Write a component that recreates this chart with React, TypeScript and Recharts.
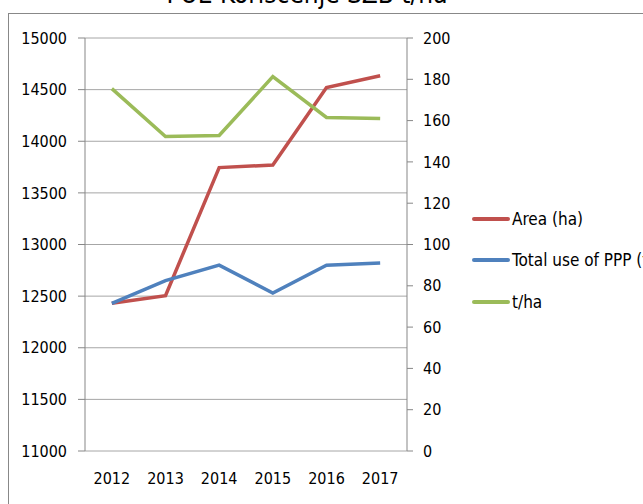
import React from "react";
import {
  LineChart,
  Line,
  XAxis,
  YAxis,
  CartesianGrid,
  Legend,
} from "recharts";

const years = ["2012", "2013", "2014", "2015", "2016", "2017"];
const area = [12430, 12505, 13745, 13770, 14520, 14635];
const pppUse = [71.5, 82.5, 90, 76.5, 90, 91];
const yieldT = [175.5, 152.3, 152.8, 181.3, 161.5, 161];

const leftTicks = [11000, 11500, 12000, 12500, 13000, 13500, 14000, 14500, 15000];
const rightTicks = [0, 20, 40, 60, 80, 100, 120, 140, 160, 180, 200];

const seriesInfo = [
  { key: "area", name: "Area (ha)", color: "#c0504d" },
  { key: "ppp", name: "Total use of PPP (t)", color: "#4f81bd" },
  { key: "yield", name: "t/ha", color: "#9bbb59" },
];

const data = years.map((y, i) => ({
  x: i + 0.5,
  year: y,
  area: area[i],
  ppp: pppUse[i],
  yield: yieldT[i],
}));

const FONT = "'Liberation Sans Narrow', 'DejaVu Sans Condensed', sans-serif";
const AXIS = "#878787";
const GRID = "#a6a6a6";

function LegendBox() {
  return (
    <div style={{ fontFamily: FONT, fontSize: 17, color: "#000", whiteSpace: "nowrap" }}>
      {seriesInfo.map((s) => (
        <div key={s.key} style={{ display: "flex", alignItems: "center", height: 41.5 }}>
          <span
            style={{
              display: "inline-block",
              width: 38,
              height: 4,
              background: s.color,
              marginRight: 2,
              borderRadius: 2,
            }}
          />
          <span>{s.name}</span>
        </div>
      ))}
    </div>
  );
}

export default function App() {
  const tickStyle = { fontFamily: FONT, fontSize: 16, fill: "#000" };
  return (
    <div
      style={{
        position: "absolute",
        left: 0,
        top: 0,
        width: 643,
        height: 504,
        overflow: "hidden",
        background: "#fff",
      }}
    >
      <div
        style={{
          position: "absolute",
          left: 0,
          width: 614,
          top: -19,
          textAlign: "center",
          fontFamily: FONT,
          fontSize: 26,
          lineHeight: "26px",
          color: "#000",
        }}
      >
        PUE Korišćenje SZB t/ha
      </div>
      <div
        style={{
          position: "absolute",
          left: 8,
          top: 13,
          width: 700,
          height: 600,
          border: "1px solid #888",
        }}
      />
      <div style={{ position: "absolute", left: 0, top: 0 }}>
        <LineChart
          width={643}
          height={504}
          data={data}
          margin={{ top: 38, right: 176, bottom: 23, left: 8 }}
        >
          <CartesianGrid
            yAxisId="left"
            vertical={false}
            stroke={GRID}
            strokeWidth={1}
          />
          <XAxis
            xAxisId="marks"
            dataKey="x"
            type="number"
            domain={[0, 6]}
            ticks={[0, 1, 2, 3, 4, 5, 6]}
            tick={false}
            height={0}
            tickSize={7}
            stroke={AXIS}
            tickLine={{ stroke: AXIS }}
          />
          <XAxis
            xAxisId="labels"
            dataKey="x"
            type="number"
            domain={[0, 6]}
            ticks={data.map((d) => d.x)}
            tickFormatter={(v: number) => years[Math.round(v - 0.5)]}
            axisLine={false}
            tickLine={false}
            height={30}
            tick={tickStyle}
            tickMargin={16}
          />
          <YAxis
            yAxisId="left"
            orientation="left"
            width={77}
            domain={[11000, 15000]}
            ticks={leftTicks}
            interval={0}
            tickSize={7}
            stroke={AXIS}
            tick={tickStyle}
            tickMargin={11}
          />
          <YAxis
            yAxisId="right"
            orientation="right"
            width={60}
            domain={[0, 200]}
            ticks={rightTicks}
            interval={0}
            tickSize={6}
            stroke={AXIS}
            tick={tickStyle}
            tickMargin={10}
          />
          <Legend
            layout="vertical"
            align="center"
            verticalAlign="middle"
            wrapperStyle={{ left: 472, top: 198, width: 200 }}
            content={() => <LegendBox />}
          />
          <Line
            xAxisId="marks"
            yAxisId="left"
            dataKey="area"
            name="Area (ha)"
            stroke="#c0504d"
            strokeWidth={3.5}
            dot={false}
            isAnimationActive={false}
          />
          <Line
            xAxisId="marks"
            yAxisId="right"
            dataKey="ppp"
            name="Total use of PPP (t)"
            stroke="#4f81bd"
            strokeWidth={3.5}
            dot={false}
            isAnimationActive={false}
          />
          <Line
            xAxisId="marks"
            yAxisId="right"
            dataKey="yield"
            name="t/ha"
            stroke="#9bbb59"
            strokeWidth={3.5}
            dot={false}
            isAnimationActive={false}
          />
        </LineChart>
      </div>
    </div>
  );
}
